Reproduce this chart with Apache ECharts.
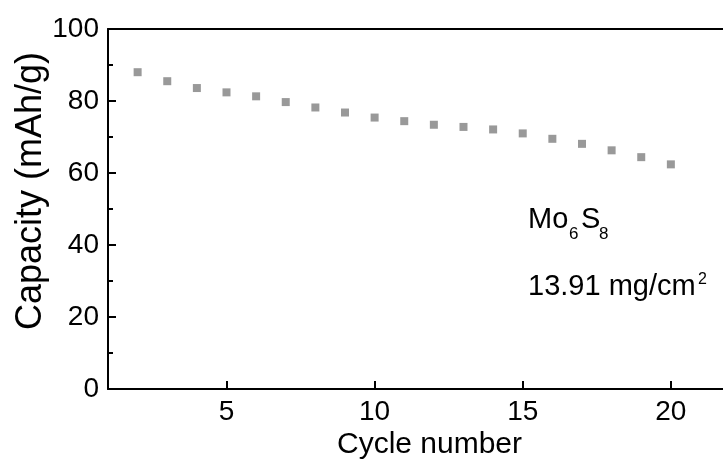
<!DOCTYPE html>
<html>
<head>
<meta charset="utf-8">
<script src="https://cdn.jsdelivr.net/npm/echarts@6/dist/echarts.min.js"></script>
<style>
  html, body { margin: 0; padding: 0; background: #fff; }
  #chart { width: 723px; height: 464px; }
</style>
</head>
<body>
<div id="chart"></div>
<script>
var myChart = echarts.init(document.getElementById('chart'));

// cycles 2..20 and capacity
const cycles = [2, 3, 4, 5, 6, 7, 8, 9, 10, 11, 12, 13, 14, 15, 16, 17, 18, 19, 20];
const capacity = [88.0, 85.5, 83.6, 82.4, 81.3, 79.7, 78.2, 76.8, 75.4, 74.4,
                  73.4, 72.8, 72.1, 71.0, 69.5, 68.1, 66.3, 64.4, 62.4];
const xTicks = [5, 10, 15, 20];

const font = 'Liberation Sans, Arial, sans-serif';

var option = {
  animation: false,
  grid: {
    left: 108,
    top: 29,
    right: 0,
    bottom: 75,
    outerBoundsMode: 'none'
  },
  xAxis: [
    {
      type: 'value',
      min: 1,
      max: 21.76,
      name: 'Cycle number',
      nameLocation: 'middle',
      nameGap: 41,
      nameMoveOverlap: false,
      nameTextStyle: {
        fontFamily: font,
        fontSize: 30,
        color: '#000',
        padding: [0, 0, 0, 28]
      },
      axisLine: { lineStyle: { color: '#000', width: 2 } },
      axisTick: {
        inside: true,
        length: 8,
        customValues: xTicks,
        lineStyle: { color: '#000', width: 2 }
      },
      axisLabel: {
        customValues: xTicks,
        fontFamily: font,
        fontSize: 28,
        color: '#000',
        margin: 9
      },
      splitLine: { show: false }
    },
    {
      // top frame line only
      type: 'value',
      position: 'top',
      min: 1,
      max: 21.76,
      axisLine: { show: true, lineStyle: { color: '#000', width: 2 } },
      axisTick: { show: false },
      axisLabel: { show: false },
      splitLine: { show: false }
    }
  ],
  yAxis: {
    type: 'value',
    min: 0,
    max: 100,
    interval: 20,
    name: 'Capacity (mAh/g)',
    nameLocation: 'middle',
    nameGap: 59,
    nameMoveOverlap: false,
    nameTextStyle: {
      fontFamily: font,
      fontSize: 36,
      color: '#000',
      padding: [0, 0, 0, 36]
    },
    axisLine: { lineStyle: { color: '#000', width: 2 } },
    axisTick: {
      inside: true,
      length: 8,
      lineStyle: { color: '#000', width: 2 }
    },
    minorTick: {
      show: true,
      splitNumber: 2,
      length: 5,
      lineStyle: { color: '#000', width: 2 }
    },
    axisLabel: {
      fontFamily: font,
      fontSize: 28,
      color: '#000',
      margin: 9
    },
    splitLine: { show: false }
  },
  graphic: [
    { type: 'text', left: 528, top: 205, style: { text: 'Mo', font: '29px ' + font, fill: '#000' } },
    { type: 'text', left: 569, top: 226, style: { text: '6', font: '17px ' + font, fill: '#000' } },
    { type: 'text', left: 581, top: 205, style: { text: 'S', font: '29px ' + font, fill: '#000' } },
    { type: 'text', left: 599, top: 226, style: { text: '8', font: '17px ' + font, fill: '#000' } },
    { type: 'text', left: 528, top: 272, style: { text: '13.91 mg/cm', font: '29px ' + font, fill: '#000' } },
    { type: 'text', left: 698, top: 272, style: { text: '2', font: '16px ' + font, fill: '#000' } }
  ],
  series: [
    {
      type: 'scatter',
      symbol: 'rect',
      symbolSize: 8,
      itemStyle: { color: '#808080' },
      data: cycles.map(function (c, i) { return [c, capacity[i]]; })
    }
  ]
};

myChart.setOption(option);
</script>
</body>
</html>
